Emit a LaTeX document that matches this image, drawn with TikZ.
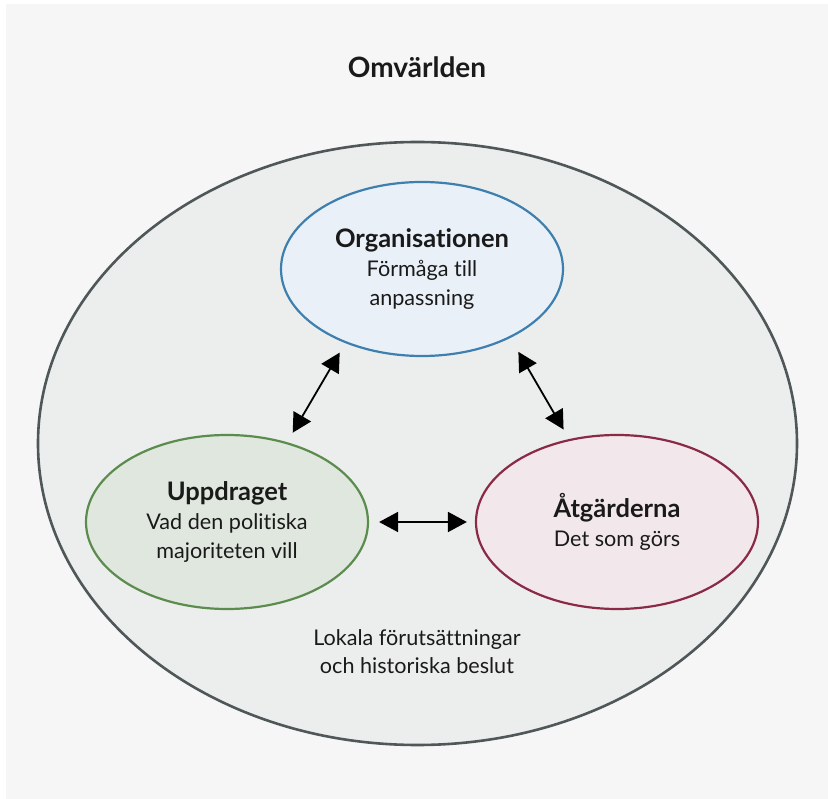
\documentclass[tikz,border=0pt]{standalone}
\usepackage{fontspec}
\setmainfont[RawFeature=-liga]{Lato}
\usepackage{tikz}
\usetikzlibrary{shapes.geometric,arrows.meta}
\definecolor{bggray}{HTML}{F6F6F6}
\definecolor{worldfill}{HTML}{ECEEED}
\definecolor{worldline}{HTML}{4F5758}
\definecolor{orgline}{HTML}{3D7FAE}
\definecolor{orgfill}{HTML}{EAF0F8}
\definecolor{uppline}{HTML}{5B8C4D}
\definecolor{uppfill}{HTML}{DFE7DE}
\definecolor{atgline}{HTML}{8A2A46}
\definecolor{atgfill}{HTML}{F2E8EC}
\definecolor{ink}{HTML}{1A1A1A}
\newcommand{\heading}[1]{{\fontsize{25.5}{29}\selectfont\bfseries #1}}
\tikzset{
   world/.style={ellipse, draw=worldline, fill=worldfill, line width=2.6pt,
                 minimum width=759pt, minimum height=603pt, inner sep=0pt},
   part/.style={ellipse, line width=2.2pt, minimum width=282pt, minimum height=174pt,
                inner sep=0pt, align=center, text=ink, font=\fontsize{21.6}{29}\selectfont},
   plain/.style={align=center, text=ink, font=\fontsize{21.6}{28}\selectfont},
   biarrow/.style={{Triangle[length=19pt,width=20pt]}-{Triangle[length=19pt,width=20pt]},
                   line width=1.8pt, draw=black, shorten <=11pt, shorten >=11pt}
}

\begin{document}
\begin{tikzpicture}[x=1pt,y=-1pt]
\useasboundingbox (0,0) rectangle (828,799);
\fill[bggray] (6,4) rectangle (828,799);
\node[world] (world) at (417.5,443.5) {};
\node[text=ink, font=\fontsize{28}{30}\selectfont\bfseries] (title) at (417,67) {Omvärlden};
\node[part, draw=orgline, fill=orgfill] (org) at (422,269) {\heading{Organisationen}\\Förmåga till\\anpassning};
\node[part, draw=uppline, fill=uppfill] (upp) at (227,522) {\heading{Uppdraget}\\Vad den politiska\\majoriteten vill};
\node[part, draw=atgline, fill=atgfill] (atg) at (617,522) {\heading{Åtgärderna}\\Det som görs};
\node[plain] (note) at (417,652) {Lokala förutsättningar\\och historiska beslut};
\draw[biarrow] (org.224) -- (upp.53);
\draw[biarrow, shorten <=16pt] (org.322) -- (atg.120);
\draw[biarrow, shorten <=10pt, shorten >=8pt] (upp.east) -- (atg.west);
\end{tikzpicture}
\end{document}
